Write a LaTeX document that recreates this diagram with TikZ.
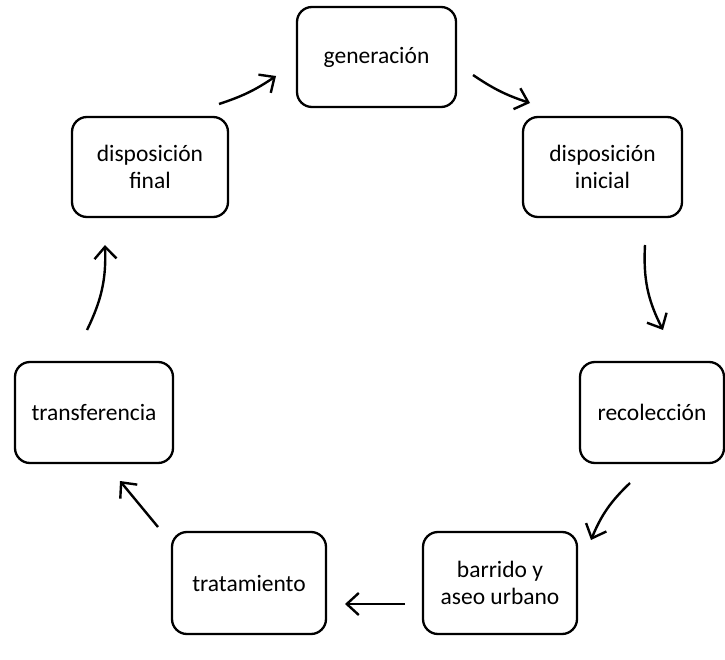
\documentclass[tikz,border=0pt]{standalone}
\usepackage{fontspec}
\setmainfont{Carlito}
\usetikzlibrary{arrows.meta}
\begin{document}
\begin{tikzpicture}[x=1pt,y=-1pt,
  stage/.style={draw=black, line width=2.3pt, rounded corners=15pt, align=center,
    font=\fontsize{23.5}{27}\selectfont, inner sep=0pt},
  flow/.style={line width=2.4pt, -{Straight Barb[length=12pt,width=22pt,line width=2.4pt]}}]
\useasboundingbox (0,0) rectangle (725,660);
\node[stage, minimum width=159pt, minimum height=100pt] (gen) at (376.5,57) {generación};
\node[stage, minimum width=159pt, minimum height=100pt] (ini) at (602.5,167) {disposición\\inicial};
\node[stage, minimum width=144pt, minimum height=101pt] (rec) at (652,412.5) {recolección};
\node[stage, minimum width=154pt, minimum height=102pt] (bar) at (500,583) {barrido y\\aseo urbano};
\node[stage, minimum width=154pt, minimum height=102pt] (tra) at (249,583) {tratamiento};
\node[stage, minimum width=158pt, minimum height=101pt] (trf) at (94,412.5) {transferencia};
\node[stage, minimum width=156pt, minimum height=100pt] (fin) at (150,167) {disposición\\final};
\coordinate (a1s) at (219,104); \coordinate (a1e) at (276,76);
\coordinate (a2s) at (473,75);  \coordinate (a2e) at (530,103);
\coordinate (a3s) at (645,245); \coordinate (a3e) at (663,330);
\coordinate (a4s) at (630,483); \coordinate (a4e) at (591,540);
\coordinate (a5s) at (405,604); \coordinate (a5e) at (345,604);
\coordinate (a6s) at (158,527); \coordinate (a6e) at (120,481);
\coordinate (a7s) at (87,330);  \coordinate (a7e) at (105,245);
\draw[flow] (a1s) to[bend right=8] (a1e);
\draw[flow] (a2s) to[bend right=8] (a2e);
\draw[flow] (a3s) to[bend right=15] (a3e);
\draw[flow] (a4s) to[bend right=12] (a4e);
\draw[flow] (a5s) -- (a5e);
\draw[flow] (a6s) -- (a6e);
\draw[flow] (a7s) to[bend right=14] (a7e);
\end{tikzpicture}
\end{document}
